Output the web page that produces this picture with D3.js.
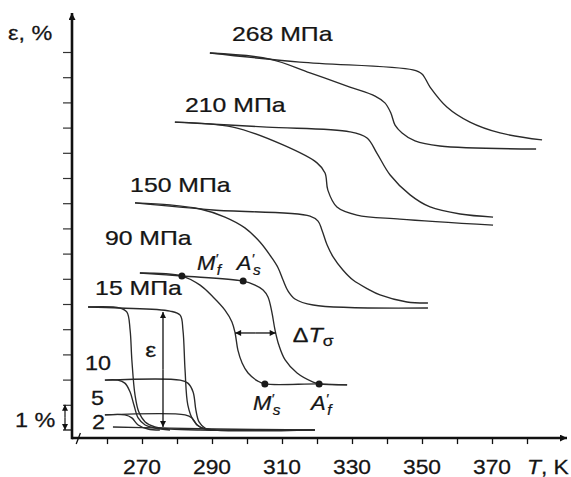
<!DOCTYPE html>
<html>
<head>
<meta charset="utf-8">
<script src="https://cdn.jsdelivr.net/npm/d3@7"></script>
<style>
body { margin: 0; background: #fff; }
svg text { font-family: 'Liberation Sans', Arial, sans-serif; fill: #151515; stroke: #151515; stroke-width: 0.25; }
.curve { fill: none; stroke: #2a2a2a; stroke-width: 1.35; }
</style>
</head>
<body>
<div id="chart"></div>
<script>
/* Кривые ε(T): нагрев и охлаждение для каждого напряжения, [T, K ; ε, %] */
var heat268 = [[289.4,14.96],[315.1,14.60],[347.4,14.29],[350.0,14.13],[352.3,13.61],[357.1,12.82],[363.7,12.22],[372.3,11.79],[384.3,11.51]];
var cool268 = [[289.4,14.96],[306.6,14.72],[318.0,14.17],[329.4,13.61],[336.6,13.25],[339.4,12.98],[341.1,12.58],[342.3,12.10],[344.3,11.79],[348.0,11.47],[355.1,11.27],[382.6,11.15]];

var heat210 = [[279.4,12.22],[305.7,12.02],[329.4,11.83],[334.3,11.59],[337.1,10.99],[340.9,10.12],[346.6,9.33],[352.3,8.85],[360.9,8.57],[370.3,8.45]];
var cool210 = [[279.4,12.22],[296.0,12.02],[310.3,11.31],[320.0,10.60],[322.3,10.20],[323.1,9.52],[325.7,8.85],[331.4,8.53],[343.7,8.37],[370.3,8.13]];

var heat150 = [[268.0,9.01],[290.3,8.73],[318.0,8.49],[320.3,8.29],[321.4,7.94],[322.9,7.34],[324.6,6.87],[327.4,6.35],[330.3,5.95],[334.6,5.59],[338.0,5.36],[345.7,5.08],[351.7,5.04]];
var cool150 = [[268.0,9.01],[278.0,8.93],[286.6,8.77],[293.7,8.45],[299.4,8.02],[303.7,7.46],[307.1,6.83],[308.9,6.43],[310.3,5.95],[311.7,5.52],[313.7,5.20],[318.9,4.96],[351.7,4.84]];

var heat90 = [[269.4,6.23],[281.4,6.11],[298.9,5.91],[302.3,5.75],[304.6,5.56],[306.0,5.28],[307.1,4.68],[308.0,3.97],[309.1,3.37],[310.9,2.78],[314.3,2.26],[318.9,1.90],[320.6,1.83],[328.6,1.79]];
var cool90 = [[269.4,6.23],[281.4,6.11],[286.6,5.75],[290.3,5.28],[293.7,4.76],[295.7,4.29],[296.6,3.85],[297.4,3.17],[298.6,2.66],[300.3,2.26],[303.1,1.94],[305.1,1.83],[320.6,1.83],[328.6,1.79]];

var heat15 = [[254.6,4.88],[263.7,4.84],[278.0,4.72],[280.9,4.56],[281.7,3.97],[282.3,2.38],[283.1,0.99],[284.6,0.40],[286.6,0.12],[290.9,0],[319.4,0]];
var cool15 = [[254.6,4.88],[263.7,4.84],[265.7,4.68],[266.6,3.97],[267.1,2.78],[268.0,1.39],[269.1,0.71],[270.9,0.32],[273.7,0.12],[278.0,0.04],[286.6,0],[319.4,0]];

var heat10 = [[259.4,1.98],[280.9,1.98],[283.1,1.86],[284.6,1.51],[285.4,0.79],[286.3,0.32],[288.0,0.08],[290.9,0]];
var cool10 = [[259.4,1.98],[263.1,1.98],[265.1,1.86],[266.6,1.51],[267.7,0.99],[268.9,0.48],[270.9,0.20],[273.7,0.08],[278.0,0]];

var heat5 = [[259.4,0.60],[282.3,0.60],[284.3,0.48],[285.7,0.20],[288.0,0.04],[290.9,0]];
var cool5 = [[259.4,0.60],[265.1,0.60],[267.1,0.48],[268.9,0.20],[271.7,0.04],[275.1,0]];

var line2 = [[261.7,0.12],[275.1,0.08],[290.9,0.04],[319.4,0]];

var curves = [heat268, cool268, heat210, cool210, heat150, cool150, heat90, cool90,
              heat15, cool15, heat10, cool10, heat5, cool5, line2];

/* Надписи напряжений и их привязка [T, ε] */
var stressNames = ['268 МПа', '210 МПа', '150 МПа', '90 МПа', '15 МПа', '10', '5', '2'];
var stressAnchors = [[295.7,15.44],[282.3,12.62],[266.6,9.44],[259.4,7.34],[256.6,5.36],[253.7,2.38],[255.4,0.99],[255.7,0.04]];

/* Характерные точки для 90 МПа */
var pointNames = [['M', 'f'], ['A', 's'], ['M', 's'], ['A', 'f']];
var pointValues = [[281.4,6.11],[298.9,5.91],[305.1,1.83],[320.6,1.83]];
var pointLabelAnchors = [[285.7,6.35],[297.1,6.35],[301.7,0.79],[318.3,0.79]];

var xTicks = [260, 270, 280, 290, 300, 310, 320, 330, 340, 350, 360, 370, 380];
var xTickLabels = [270, 290, 310, 330, 350, 370];
var yTicks = [1, 2, 3, 4, 5, 6, 7, 8, 9, 10, 11, 12, 13, 14, 15];

var width = 571, height = 477;

var svg = d3.select('#chart').append('svg')
    .attr('width', width)
    .attr('height', height);

var x = d3.scaleLinear().domain([250, 390]).range([72, 562]);
var y = d3.scaleLinear().domain([0, 16]).range([430, 26.8]);
var axisY = y(-0.32);

var defs = svg.append('defs');
function makeMarker(id, w, h)
{
    var m = defs.append('marker');
    m.attr('id', id)
     .attr('viewBox', '0 0 10 10')
     .attr('refX', 10)
     .attr('refY', 5)
     .attr('markerUnits', 'userSpaceOnUse')
     .attr('markerWidth', w)
     .attr('markerHeight', h)
     .attr('orient', 'auto-start-reverse');
    m.append('path').attr('d', 'M0,0 L10,5 L0,10 z').attr('fill', '#111');
}
makeMarker('axisArrow', 11, 7);
makeMarker('arrow', 9, 6);

/* Текст в исходнике немного растянут по горизонтали */
function label(str, px, py, size, sx, italic)
{
    var t = svg.append('text')
        .attr('transform', 'translate(' + px + ',' + py + ') scale(' + sx + ',1)')
        .style('font-size', size + 'px');
    if (italic) t.style('font-style', 'italic');
    if (str !== null) t.text(str);
    return t;
}

/* Оси */
var xAxis = d3.axisBottom(x).tickValues(xTicks).tickSize(6).tickSizeOuter(0).tickFormat('');
var gx = svg.append('g').attr('transform', 'translate(0,' + axisY + ')').call(xAxis);
gx.select('.domain').remove();
gx.selectAll('line').attr('stroke', '#111').attr('stroke-width', 1.3);

var yAxis = d3.axisLeft(y).tickValues(yTicks).tickSize(9).tickSizeOuter(0).tickFormat('');
var gy = svg.append('g').attr('transform', 'translate(' + x(250) + ',0)').call(yAxis);
gy.select('.domain').remove();
gy.selectAll('line').attr('stroke', '#333').attr('stroke-width', 1.2);

svg.append('line')
   .attr('x1', x(250)).attr('y1', axisY)
   .attr('x2', 567).attr('y2', axisY)
   .attr('stroke', '#111').attr('stroke-width', 2.6)
   .attr('marker-end', 'url(#axisArrow)');
svg.append('line')
   .attr('x1', x(250)).attr('y1', axisY + 1.3)
   .attr('x2', x(250)).attr('y2', 13)
   .attr('stroke', '#111').attr('stroke-width', 2.6)
   .attr('marker-end', 'url(#axisArrow)');
// разрыв оси
svg.append('line')
   .attr('x1', x(251.2)).attr('y1', axisY + 6)
   .attr('x2', x(252.4)).attr('y2', axisY - 5)
   .attr('stroke', '#111').attr('stroke-width', 1.3);

xTickLabels.forEach(function(v) {
    label(String(v), x(v), 474, 19.5, 1.17).attr('text-anchor', 'middle');
});
var tk = label(null, 527, 474, 19.5, 1.17);
tk.append('tspan').style('font-style', 'italic').text('T');
tk.append('tspan').text(', K');

label('ε, %', 8, 40, 20, 1.17);

/* Масштаб 1 % */
svg.append('line')
   .attr('x1', x(250) - 9).attr('y1', y(0))
   .attr('x2', x(250)).attr('y2', y(0))
   .attr('stroke', '#111').attr('stroke-width', 1.3);
svg.append('line')
   .attr('x1', x(250) - 7).attr('y1', y(0.5))
   .attr('x2', x(250) - 7).attr('y2', y(1))
   .attr('stroke', '#111').attr('stroke-width', 1.2)
   .attr('marker-end', 'url(#arrow)');
svg.append('line')
   .attr('x1', x(250) - 7).attr('y1', y(0.5))
   .attr('x2', x(250) - 7).attr('y2', y(0))
   .attr('stroke', '#111').attr('stroke-width', 1.2)
   .attr('marker-end', 'url(#arrow)');
label('1 %', 15, 427, 20, 1.17);

/* Кривые */
var line = d3.line()
    .x(function(d) { return x(d[0]); })
    .y(function(d) { return y(d[1]); })
    .curve(d3.curveCatmullRom.alpha(0.5));

svg.append('g').selectAll('path')
   .data(curves)
   .enter()
       .append('path')
       .attr('class', 'curve')
       .attr('d', line);

stressNames.forEach(function(name, i) {
    var a = stressAnchors[i];
    label(name, x(a[0]), y(a[1]), 20, i < 5 ? 1.24 : 1.17);
});

/* Точки M'f, A's, M's, A'f */
svg.append('g').selectAll('circle')
   .data(pointValues)
   .enter()
       .append('circle')
       .attr('cx', function(d) { return x(d[0]); })
       .attr('cy', function(d) { return y(d[1]); })
       .attr('r', 3.5)
       .attr('fill', '#1a1a1a');

pointNames.forEach(function(p, i) {
    var a = pointLabelAnchors[i];
    var t = label(null, x(a[0]), y(a[1]), 20, 1.1, true);
    t.append('tspan').text(p[0]);
    t.append('tspan').attr('dy', -7).style('font-size', '13px').text('′');
    t.append('tspan').attr('dx', -1).attr('dy', 12).style('font-size', '14px').text(p[1]);
});

/* Стрелка ε и ΔTσ */
var epsT = 276.0;
svg.append('line')
   .attr('x1', x(epsT)).attr('y1', y(2.4))
   .attr('x2', x(epsT)).attr('y2', y(4.68))
   .attr('stroke', '#111').attr('stroke-width', 1.3)
   .attr('marker-end', 'url(#arrow)');
svg.append('line')
   .attr('x1', x(epsT)).attr('y1', y(2.4))
   .attr('x2', x(epsT)).attr('y2', y(0.12))
   .attr('stroke', '#111').attr('stroke-width', 1.3)
   .attr('marker-end', 'url(#arrow)');
label('ε', x(270.9), y(2.9), 21, 1.17);

var dtEps = 3.85;
svg.append('line')
   .attr('x1', x(302.4)).attr('y1', y(dtEps))
   .attr('x2', x(296.6)).attr('y2', y(dtEps))
   .attr('stroke', '#111').attr('stroke-width', 1.3)
   .attr('marker-end', 'url(#arrow)');
svg.append('line')
   .attr('x1', x(302.4)).attr('y1', y(dtEps))
   .attr('x2', x(308.2)).attr('y2', y(dtEps))
   .attr('stroke', '#111').attr('stroke-width', 1.3)
   .attr('marker-end', 'url(#arrow)');
var dt = label(null, x(313.1), y(3.49), 20, 1.17);
dt.append('tspan').text('Δ');
dt.append('tspan').style('font-style', 'italic').text('T');
dt.append('tspan').attr('dy', 4).style('font-size', '15px').text('σ');
</script>
</body>
</html>
